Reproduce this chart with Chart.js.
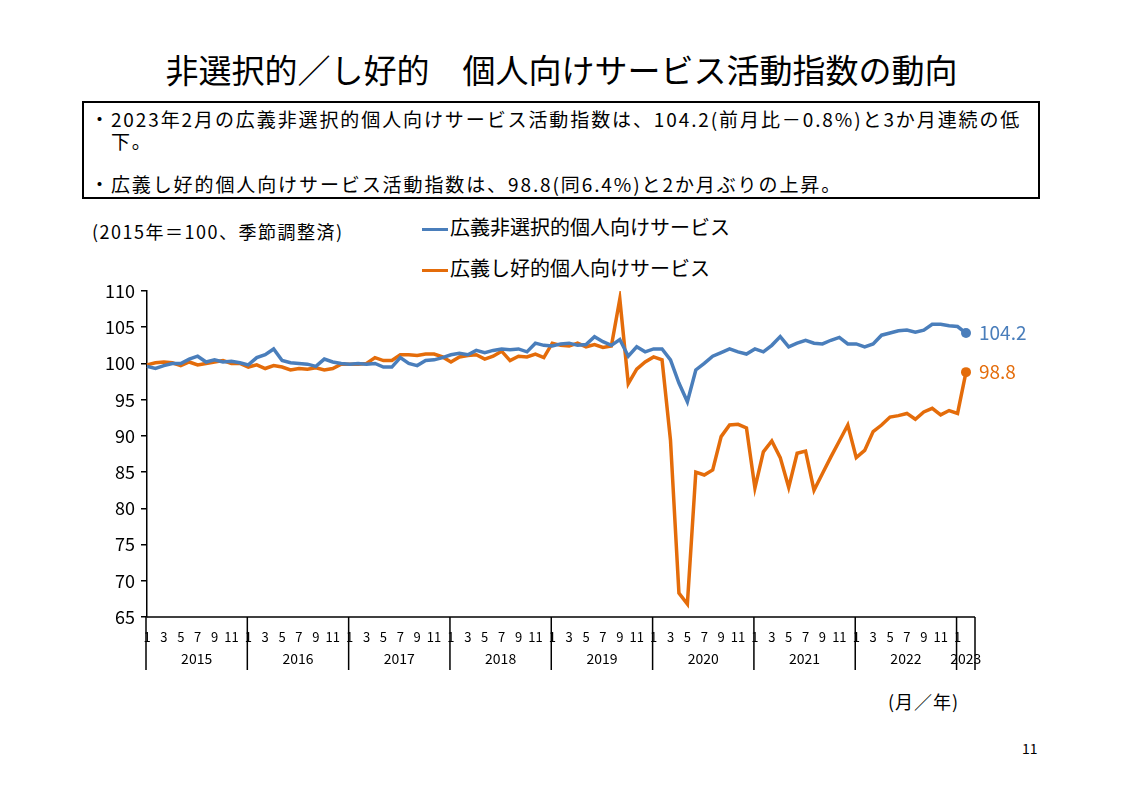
<!DOCTYPE html>
<html><head><meta charset="utf-8">
<script src="https://cdn.jsdelivr.net/npm/chart.js@4"></script>
<style>
body{margin:0;width:1123px;height:794px;background:#fff;font-family:"Noto Sans CJK JP",sans-serif;position:relative;overflow:hidden}
.t{position:absolute;white-space:nowrap;color:#000}
#box{position:absolute;left:82px;top:101px;width:958px;height:98px;border:2px solid #000;box-sizing:border-box}
canvas{position:absolute;left:0;top:0}
</style></head><body>
<div class="t" style="left:0;width:1123px;text-align:center;top:45px;font-size:33px">非選択的／し好的　個人向けサービス活動指数の動向</div>
<div id="box"></div>
<div class="t" style="left:90px;top:108px;font-size:19px;line-height:22px;letter-spacing:1.9px">・2023年2月の広義非選択的個人向けサービス活動指数は、104.2(前月比－0.8%)と3か月連続の低<br>　下。</div>
<div class="t" style="left:90px;top:170px;font-size:19px;letter-spacing:1.9px">・広義し好的個人向けサービス活動指数は、98.8(同6.4%)と2か月ぶりの上昇。</div>
<div class="t" style="left:92px;top:218px;font-size:18px;letter-spacing:1.5px">(2015年＝100、季節調整済)</div>
<div class="t" style="left:422px;top:212px;font-size:20px"><span style="display:inline-block;width:26px;height:3px;background:#4a7ebb;vertical-align:middle;margin-right:2px"></span>広義非選択的個人向けサービス</div>
<div class="t" style="left:422px;top:253px;font-size:20px"><span style="display:inline-block;width:26px;height:3px;background:#e46c0a;vertical-align:middle;margin-right:2px"></span>広義し好的個人向けサービス</div>
<div class="t" style="left:888px;top:688px;font-size:18px;letter-spacing:1px">(月／年)</div>
<div class="t" style="left:1022px;top:738px;font-size:14px">11</div>
<canvas id="c" width="1123" height="794"></canvas>
<script>
var years = ["2015","2016","2017","2018","2019","2020","2021","2022","2023"];
var months = [];
years.forEach(function(y){ for (var m=1;m<=12;m++){ if (y=="2023" && m>2) break; months.push(y+"-"+m); } });

var nonSelective = [
  99.6,99.3,99.7,100.0,100.0,100.6,101.0,100.2,100.5,100.2,100.3,100.1,
  99.8,100.8,101.2,102.0,100.4,100.1,100.0,99.9,99.6,100.6,100.2,100.0,
  99.9,100.0,99.9,100.0,99.5,99.5,100.8,100.0,99.7,100.4,100.5,100.8,
  101.2,101.4,101.2,101.8,101.5,101.8,102.0,101.9,102.0,101.6,102.8,102.5,
  102.4,102.7,102.8,102.5,102.6,103.7,103.0,102.5,103.3,101.0,102.3,101.6,
  102.0,102.0,100.5,97.3,94.7,99.1,100.0,101.0,101.5,102.0,101.6,101.3,
  102.0,101.6,102.5,103.7,102.3,102.8,103.2,102.8,102.7,103.2,103.6,102.7,
  102.7,102.3,102.7,103.9,104.2,104.5,104.6,104.3,104.6,105.4,105.4,105.2,
  105.1,104.2
];
var discretionary = [
  99.8,100.1,100.2,100.1,99.7,100.2,99.8,100.0,100.2,100.4,100.0,100.0,
  99.5,99.8,99.3,99.7,99.5,99.1,99.3,99.2,99.4,99.1,99.3,99.9,
  99.9,99.9,100.0,100.8,100.4,100.4,101.2,101.2,101.1,101.3,101.3,100.9,
  100.2,100.9,101.1,101.2,100.6,101.0,101.7,100.4,101.0,100.9,101.3,100.8,
  102.8,102.5,102.4,102.8,102.3,102.6,102.2,102.4,108.9,97.2,99.2,100.2,
  100.9,100.5,89.4,68.3,66.8,85.0,84.6,85.3,89.9,91.5,91.6,91.1,
  82.8,87.8,89.3,87.0,82.9,87.6,87.9,82.5,84.8,87.1,89.3,91.5,
  87.0,88.0,90.6,91.5,92.6,92.8,93.1,92.3,93.3,93.8,92.9,93.5,
  93.1,98.8
];
var yTicks = [65,70,75,80,85,90,95,100,105,110];
var blue = "#4a7ebb", orange = "#e46c0a";

function lastOnly(n, r){ var a=[]; for (var i=0;i<n;i++) a.push(i==n-1?r:0); return a; }

var extras = {
  id: "extras",
  afterDraw: function(chart){
    var ctx = chart.ctx, x = chart.scales.x, y = chart.scales.y;
    var top = y.bottom, bot = top + 53;
    ctx.save();
    ctx.strokeStyle = "#000"; ctx.lineWidth = 1.5;
    ctx.beginPath(); ctx.moveTo(y.right, top); ctx.lineTo(975, top); ctx.stroke();
    ctx.font = "14px 'Noto Sans CJK JP'"; ctx.fillStyle = "#000"; ctx.textAlign = "center";
    years.forEach(function(yr, k){
      var x0 = x.getPixelForValue(k*12) - 1;
      var x1 = k < years.length-1 ? x.getPixelForValue((k+1)*12) - 1 : 975;
      ctx.beginPath(); ctx.moveTo(x0, top); ctx.lineTo(x0, bot); ctx.stroke();
      if (k == years.length-1){ ctx.beginPath(); ctx.moveTo(x1, top); ctx.lineTo(x1, bot); ctx.stroke(); }
      ctx.fillText(yr, (x0+x1)/2, top+47);
    });
    ctx.font = "19px 'Noto Sans CJK JP'"; ctx.textAlign = "left"; ctx.textBaseline = "middle";
    var n = months.length-1;
    ctx.fillStyle = blue; ctx.fillText(nonSelective[n].toFixed(1), x.getPixelForValue(n)+13, y.getPixelForValue(nonSelective[n]));
    ctx.fillStyle = orange; ctx.fillText(discretionary[n].toFixed(1), x.getPixelForValue(n)+13, y.getPixelForValue(discretionary[n]));
    ctx.restore();
  }
};

new Chart("c", {
  type: "line",
  data: {
    labels: months,
    datasets: [
      { data: nonSelective, borderColor: blue, backgroundColor: blue, borderWidth: 3.5, tension: 0,
        pointRadius: lastOnly(months.length, 5), pointBorderWidth: 0 },
      { data: discretionary, borderColor: orange, backgroundColor: orange, borderWidth: 3.5, tension: 0,
        pointRadius: lastOnly(months.length, 5), pointBorderWidth: 0 }
    ]
  },
  options: {
    responsive: false, animation: false,
    layout: { padding: { top: 291, left: 87, right: 157, bottom: 124 } },
    plugins: { legend: { display: false }, tooltip: { enabled: false } },
    scales: {
      y: {
        min: 65, max: 110,
        afterFit: function(s){ s.width = 60; },
        afterBuildTicks: function(s){ s.ticks = yTicks.map(function(v){ return {value: v}; }); },
        border: { color: "#000", width: 1.5 },
        grid: { drawOnChartArea: false, color: "#000", tickLength: 6, lineWidth: 1.5 },
        ticks: { color: "#000", font: { size: 18, family: "Noto Sans CJK JP" }, padding: 6 }
      },
      x: {
        offset: false,
        afterFit: function(s){ s.height = 53; },
        border: { display: false },
        grid: { display: false },
        ticks: {
          autoSkip: false, maxRotation: 0, color: "#000", padding: 4,
          font: { size: 13, family: "Noto Sans CJK JP" },
          callback: function(v){ var m = +months[v].split("-")[1]; return m % 2 ? String(m) : ""; }
        }
      }
    }
  },
  plugins: [extras]
});
</script>
</body></html>
